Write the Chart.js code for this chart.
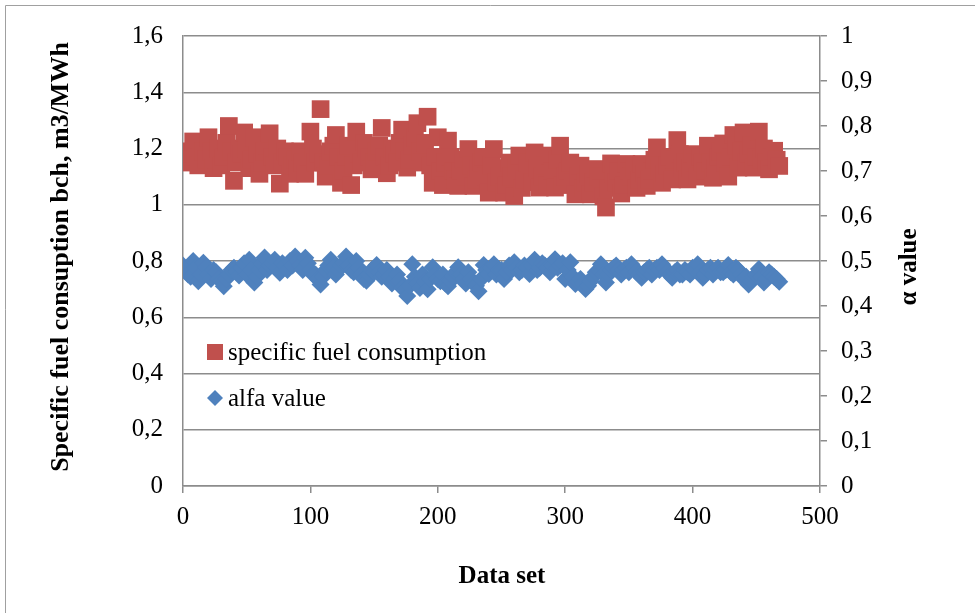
<!DOCTYPE html>
<html>
<head>
<meta charset="utf-8">
<script src="https://cdn.jsdelivr.net/npm/chart.js@4/dist/chart.umd.min.js"></script>
<style>
html,body{margin:0;padding:0;background:#fff;}
#wrap{position:relative;width:980px;height:613px;}
</style>
</head>
<body>
<div id="wrap"><canvas id="c" width="980" height="613"></canvas></div>
<script>
// Data set index (x) for sampled points, group A
const dataSetIdxA = [0,4,8,12,16,20,24,28,32,36,40,44,48,52,56,60,64,68,72,76,80,84,88,92,96,100,104,108,112,116,120,124,128,132,136,140,144,148,152,156,160,164,168,172,176,180,184,188,192,196,200,204,208,212,216,220,224,228,232,236,240,244,248,252,256,260,264,268,272,276,280,284,288,292,296,300,304,308,312,316,320,324,328,332,336,340,344,348,352,356,360,364,368,372,376,380,384,388,392,396,400,404,408,412,416,420,424,428,432,436,440,444,448,452,456,460,464,468];
// Data set index (x) for sampled points, group B
const dataSetIdxB = [2,6,10,14,18,22,26,30,34,38,42,46,50,54,58,62,66,70,74,78,82,86,90,94,98,102,106,110,114,118,122,126,130,134,138,142,146,150,154,158,162,166,170,174,178,182,186,190,194,198,202,206,210,214,218,222,226,230,234,238,242,246,250,254,258,262,266,270,274,278,282,286,290,294,298,302,306,310,314,318,322,326,330,334,338,342,346,350,354,358,362,366,370,374,378,382,386,390,394,398,402,406,410,414,418,422,426,430,434,438,442,446,450,454,458,462,466];

// Specific fuel consumption bch, m3/MWh (left axis)
const fuelValuesA = [1.16,1.18,1.225,1.14,1.19,1.24,1.13,1.20,1.17,1.28,1.085,1.20,1.257,1.13,1.24,1.11,1.19,1.254,1.14,1.075,1.19,1.11,1.16,1.19,1.11,1.26,1.15,1.34,1.10,1.19,1.248,1.078,1.17,1.07,1.26,1.15,1.20,1.126,1.19,1.273,1.112,1.20,1.15,1.267,1.132,1.21,1.29,1.15,1.313,1.078,1.24,1.07,1.228,1.12,1.067,1.16,1.198,1.067,1.13,1.17,1.043,1.198,1.10,1.043,1.15,1.031,1.175,1.09,1.13,1.186,1.061,1.14,1.175,1.061,1.21,1.10,1.15,1.037,1.139,1.08,1.037,1.127,1.06,0.99,1.147,1.08,1.04,1.145,1.10,1.06,1.145,1.067,1.12,1.204,1.078,1.14,1.09,1.23,1.13,1.09,1.18,1.10,1.15,1.21,1.096,1.17,1.218,1.10,1.248,1.132,1.257,1.18,1.132,1.26,1.20,1.126,1.192,1.138];
const fuelValuesB = [1.15,1.19,1.17,1.20,1.16,1.19,1.16,1.14,1.22,1.19,1.15,1.18,1.20,1.16,1.18,1.15,1.21,1.17,1.20,1.15,1.17,1.14,1.13,1.15,1.17,1.20,1.18,1.15,1.14,1.21,1.17,1.12,1.21,1.14,1.18,1.22,1.17,1.15,1.21,1.17,1.14,1.18,1.22,1.19,1.16,1.24,1.19,1.22,1.14,1.17,1.12,1.15,1.17,1.09,1.12,1.10,1.14,1.09,1.15,1.10,1.14,1.08,1.13,1.07,1.10,1.13,1.06,1.15,1.08,1.13,1.10,1.07,1.12,1.16,1.07,1.12,1.08,1.10,1.06,1.11,1.08,1.10,1.03,1.06,1.11,1.12,1.07,1.12,1.13,1.09,1.11,1.09,1.16,1.13,1.11,1.17,1.16,1.18,1.15,1.13,1.15,1.17,1.12,1.15,1.13,1.19,1.15,1.17,1.21,1.19,1.15,1.21,1.17,1.16,1.15,1.17,1.16];

// alfa value (right axis)
const alfaValuesA = [0.49,0.47,0.50,0.455,0.496,0.47,0.48,0.46,0.444,0.47,0.485,0.468,0.495,0.503,0.452,0.48,0.508,0.49,0.503,0.474,0.49,0.50,0.51,0.49,0.507,0.48,0.47,0.448,0.48,0.503,0.47,0.49,0.51,0.48,0.50,0.47,0.456,0.48,0.491,0.465,0.48,0.45,0.47,0.44,0.422,0.493,0.45,0.47,0.437,0.486,0.46,0.47,0.444,0.465,0.486,0.46,0.475,0.45,0.433,0.491,0.471,0.493,0.48,0.46,0.49,0.497,0.475,0.49,0.471,0.503,0.485,0.49,0.475,0.504,0.49,0.46,0.497,0.449,0.46,0.438,0.455,0.475,0.493,0.452,0.48,0.49,0.47,0.485,0.493,0.475,0.463,0.48,0.47,0.485,0.493,0.475,0.463,0.48,0.47,0.475,0.485,0.493,0.463,0.48,0.47,0.485,0.475,0.491,0.47,0.48,0.46,0.448,0.465,0.482,0.452,0.475,0.465,0.454];
const alfaValuesB = [0.48,0.465,0.485,0.47,0.485,0.46,0.475,0.455,0.46,0.48,0.475,0.485,0.47,0.48,0.465,0.495,0.48,0.495,0.485,0.495,0.48,0.49,0.50,0.48,0.495,0.47,0.46,0.465,0.49,0.485,0.48,0.495,0.49,0.475,0.485,0.46,0.47,0.475,0.475,0.47,0.465,0.46,0.455,0.435,0.445,0.465,0.44,0.455,0.46,0.47,0.455,0.45,0.455,0.475,0.47,0.45,0.46,0.445,0.46,0.48,0.485,0.47,0.48,0.475,0.48,0.485,0.48,0.485,0.49,0.48,0.495,0.485,0.49,0.485,0.495,0.48,0.465,0.455,0.45,0.445,0.465,0.48,0.47,0.47,0.485,0.48,0.48,0.475,0.485,0.47,0.475,0.485,0.48,0.48,0.485,0.47,0.475,0.47,0.48,0.47,0.48,0.475,0.47,0.485,0.48,0.475,0.48,0.475,0.485,0.47,0.465,0.455,0.47,0.465,0.46,0.47,0.46];

const seriesNames = ['specific fuel consumption', 'alfa value'];
const xTicks = [0,100,200,300,400,500];
const leftTitle = 'Specific fuel consuption bch, m3/MWh';
const rightTitle = 'α value';
const xTitle = 'Data set';

const RED = '#C0504D';
const BLUE = '#4F81BD';
const GRID = '#8c8c8c';
const FONT = '"Liberation Serif", "Times New Roman", serif';

function buildPoints(idxA, valA, idxB, valB) {
  const pts = [];
  idxA.forEach((x, i) => pts.push({x: x, y: valA[i]}));
  idxB.forEach((x, i) => pts.push({x: x, y: valB[i]}));
  pts.sort((a, b) => a.x - b.x);
  return pts;
}
const fuelPts = buildPoints(dataSetIdxA, fuelValuesA, dataSetIdxB, fuelValuesB);
const alfaPts = buildPoints(dataSetIdxA, alfaValuesA, dataSetIdxB, alfaValuesB);

const comma = v => {
  const r = Math.round(v * 10) / 10;
  return String(r).replace('.', ',');
};

const decor = {
  id: 'decor',
  afterDraw(chart) {
    const ctx = chart.ctx;
    ctx.save();
    // outer border
    ctx.strokeStyle = '#a0a0a0';
    ctx.lineWidth = 1;
    ctx.beginPath();
    ctx.moveTo(5.5, 613);
    ctx.lineTo(5.5, 5.5);
    ctx.lineTo(975, 5.5);
    ctx.stroke();

    // legend
    ctx.fillStyle = RED;
    ctx.fillRect(207, 344, 16, 16);
    ctx.fillStyle = BLUE;
    ctx.beginPath();
    ctx.moveTo(215, 390); ctx.lineTo(223, 398); ctx.lineTo(215, 406); ctx.lineTo(207, 398);
    ctx.closePath(); ctx.fill();
    ctx.fillStyle = '#000';
    ctx.font = '25px ' + FONT;
    ctx.textAlign = 'left';
    ctx.textBaseline = 'middle';
    ctx.fillText(seriesNames[0], 228, 353);
    ctx.fillText(seriesNames[1], 228, 399);

    // titles
    ctx.font = 'bold 25px ' + FONT;
    ctx.textAlign = 'center';
    ctx.textBaseline = 'middle';
    ctx.fillText(xTitle, 502, 577);
    ctx.save();
    ctx.translate(910, 267);
    ctx.rotate(-Math.PI / 2);
    ctx.fillText(rightTitle, 0, 0);
    ctx.restore();
    ctx.font = 'bold 26px ' + FONT;
    ctx.save();
    ctx.translate(61, 257);
    ctx.rotate(-Math.PI / 2);
    ctx.fillText(leftTitle, 0, 0);
    ctx.restore();
    ctx.restore();
  }
};

Chart.defaults.font.family = FONT;
Chart.defaults.font.size = 25;
Chart.defaults.color = '#000';

new Chart(document.getElementById('c'), {
  type: 'scatter',
  data: {
    datasets: [
      {
        label: seriesNames[0], data: fuelPts, yAxisID: 'y',
        pointStyle: 'rect', pointRadius: 12.5, pointHoverRadius: 12.5,
        backgroundColor: RED, borderColor: RED, borderWidth: 0
      },
      {
        label: seriesNames[1], data: alfaPts, yAxisID: 'y2',
        pointStyle: 'rectRot', pointRadius: 9, pointHoverRadius: 9,
        backgroundColor: BLUE, borderColor: BLUE, borderWidth: 0
      }
    ]
  },
  options: {
    responsive: false,
    animation: false,
    events: [],
    layout: { padding: { top: 36, left: 0, right: 0, bottom: 0 } },
    plugins: { legend: { display: false }, tooltip: { enabled: false } },
    scales: {
      x: {
        type: 'linear', min: 0, max: 500,
        afterBuildTicks: s => { s.ticks = xTicks.map(v => ({ value: v })); },
        ticks: { padding: 9, font: { size: 25 }, maxRotation: 0 },
        grid: { drawOnChartArea: false, drawTicks: true, tickLength: 7, color: GRID, lineWidth: 1.5 },
        border: { color: GRID, width: 1.5 },
        afterFit: s => { s.height = 613 - 486; }
      },
      y: {
        position: 'left', min: 0, max: 1.6,
        ticks: { stepSize: 0.2, padding: 20, callback: v => comma(v), font: { size: 25 } },
        grid: { drawTicks: false, color: GRID, lineWidth: 1.5 },
        border: { color: GRID, width: 1.5 },
        afterFit: s => { s.width = 183; }
      },
      y2: {
        position: 'right', min: 0, max: 1,
        ticks: { stepSize: 0.1, padding: 14, callback: v => comma(v), font: { size: 25 } },
        grid: { drawOnChartArea: false, drawTicks: true, tickLength: 7, color: GRID, lineWidth: 1.5 },
        border: { color: GRID, width: 1.5 },
        afterFit: s => { s.width = 980 - 820; }
      }
    }
  },
  plugins: [decor]
});
</script>
</body>
</html>
